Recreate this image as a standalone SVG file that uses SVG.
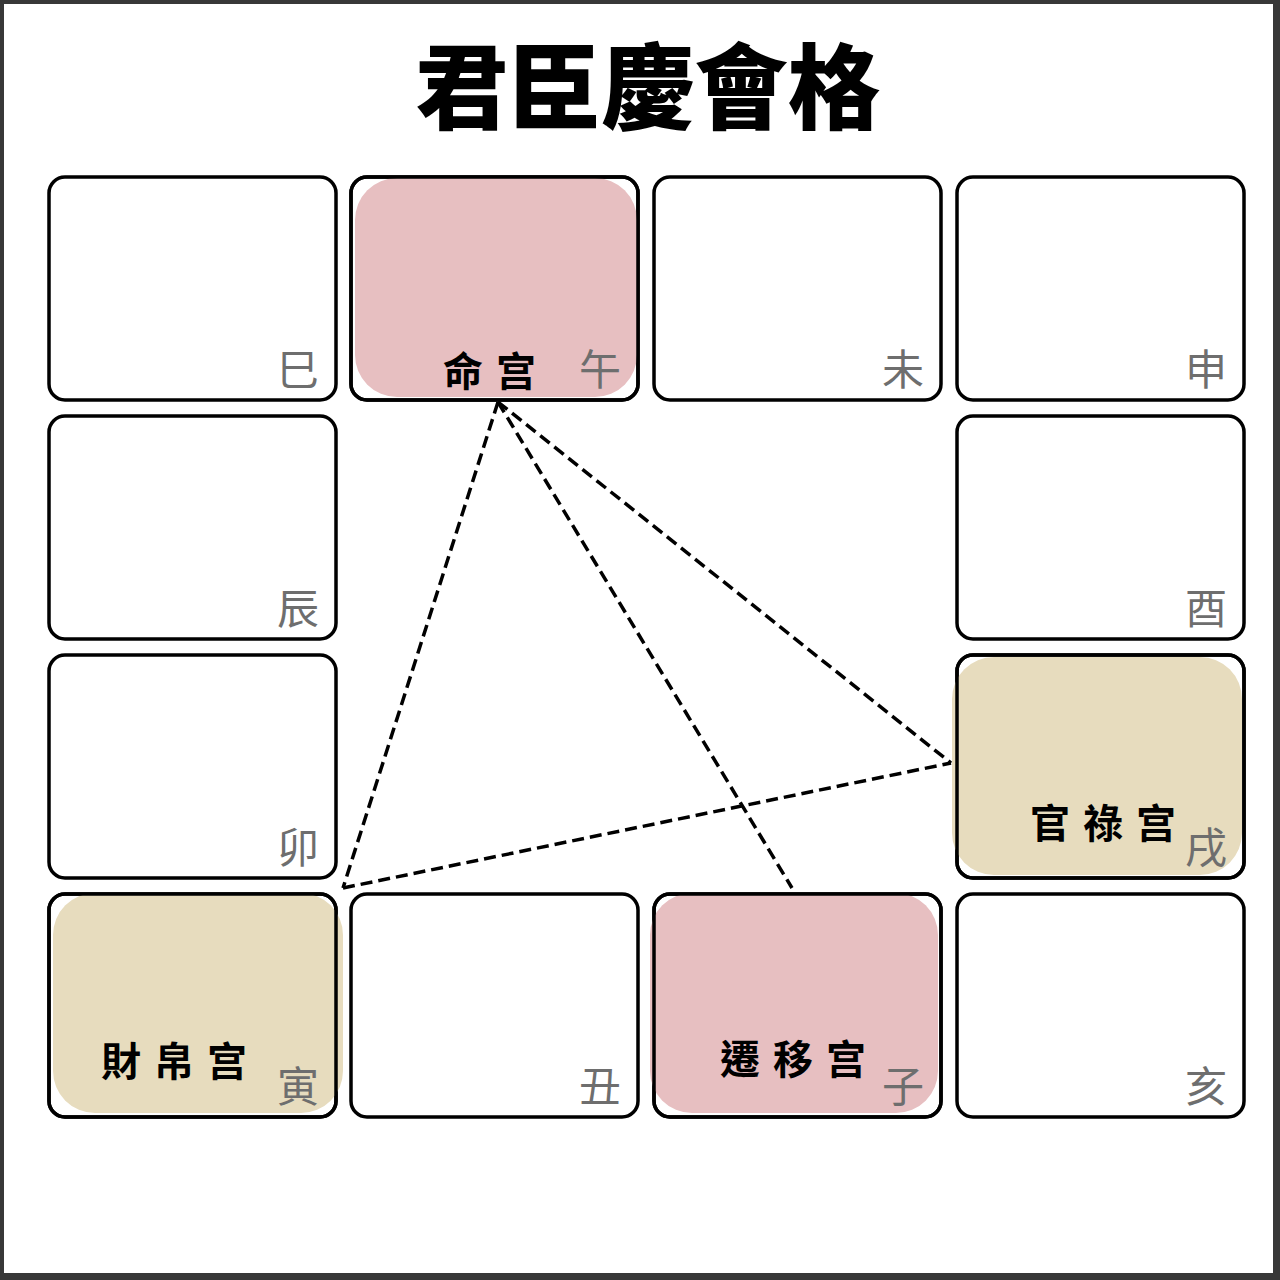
<svg xmlns="http://www.w3.org/2000/svg" width="1280" height="1280" viewBox="0 0 1280 1280">
<style>
.cell{fill:#fff;stroke:#000;stroke-width:3.5}
.outline{fill:none;stroke:#000;stroke-width:3.5}
.pink{fill:#e7bfc1}
.beige{fill:#e7dcbe}
.br{font-family:"Noto Sans CJK TC","Noto Sans CJK SC",sans-serif;font-size:42px;fill:#6e6e6e;text-anchor:end}
.pl{font-family:"Noto Sans CJK TC","Noto Sans CJK SC",sans-serif;font-size:40px;font-weight:700;fill:#000;letter-spacing:13px}
.title{font-family:"Noto Sans CJK TC","Noto Sans CJK SC",sans-serif;font-size:93px;font-weight:900;fill:#000;text-anchor:middle}
.dash{stroke:#000;stroke-width:3.5;stroke-dasharray:12 6;fill:none}
</style>
<rect x="0" y="0" width="1280" height="1280" fill="#383838"/>
<rect x="4" y="4" width="1269" height="1269" fill="#fff"/>
<text class="title" x="648" y="122">君臣慶會格</text>

<g id="si"><rect class="cell" x="49" y="177" width="287" height="223" rx="16"/><text class="br" x="319" y="385">巳</text></g>
<g id="wu"><rect class="cell" x="351" y="177" width="287" height="223" rx="16"/><rect class="pink" x="355" y="178" width="282" height="219" rx="42"/><rect class="outline" x="351" y="177" width="287" height="223" rx="16"/><text class="pl" x="443" y="386">命宫</text><text class="br" x="621" y="385">午</text></g>
<g id="wei"><rect class="cell" x="654" y="177" width="287" height="223" rx="16"/><text class="br" x="924" y="385">未</text></g>
<g id="shen"><rect class="cell" x="957" y="177" width="287" height="223" rx="16"/><text class="br" x="1227" y="385">申</text></g>

<g id="chen"><rect class="cell" x="49" y="416" width="287" height="223" rx="16"/><text class="br" x="319" y="624">辰</text></g>
<g id="you"><rect class="cell" x="957" y="416" width="287" height="223" rx="16"/><text class="br" x="1227" y="624">酉</text></g>

<g id="mao"><rect class="cell" x="49" y="655" width="287" height="223" rx="16"/><text class="br" x="319" y="863">卯</text></g>
<g id="xu"><rect class="cell" x="957" y="655" width="287" height="223" rx="16"/><rect class="beige" x="952" y="657" width="290" height="218" rx="42"/><rect class="outline" x="957" y="655" width="287" height="223" rx="16"/><text class="pl" x="1030" y="838">官祿宫</text><text class="br" x="1227" y="863">戌</text></g>

<g id="yin"><rect class="cell" x="49" y="894" width="287" height="223" rx="16"/><rect class="beige" x="53" y="893" width="290" height="220" rx="42"/><rect class="outline" x="49" y="894" width="287" height="223" rx="16"/><text class="pl" x="101" y="1076">財帛宫</text><text class="br" x="319" y="1102">寅</text></g>
<g id="chou"><rect class="cell" x="351" y="894" width="287" height="223" rx="16"/><text class="br" x="621" y="1102">丑</text></g>
<g id="zi"><rect class="cell" x="654" y="894" width="287" height="223" rx="16"/><rect class="pink" x="650" y="893" width="288" height="220" rx="42"/><rect class="outline" x="654" y="894" width="287" height="223" rx="16"/><text class="pl" x="720" y="1074">遷移宫</text><text class="br" x="924" y="1102">子</text></g>
<g id="hai"><rect class="cell" x="957" y="894" width="287" height="223" rx="16"/><text class="br" x="1227" y="1102">亥</text></g>

<g id="connectors">
<line class="dash" x1="498" y1="402" x2="343" y2="888"/>
<line class="dash" x1="498" y1="402" x2="792" y2="888"/>
<line class="dash" x1="498" y1="402" x2="951" y2="763"/>
<line class="dash" x1="343" y1="888" x2="951" y2="763"/>
</g>
</svg>
